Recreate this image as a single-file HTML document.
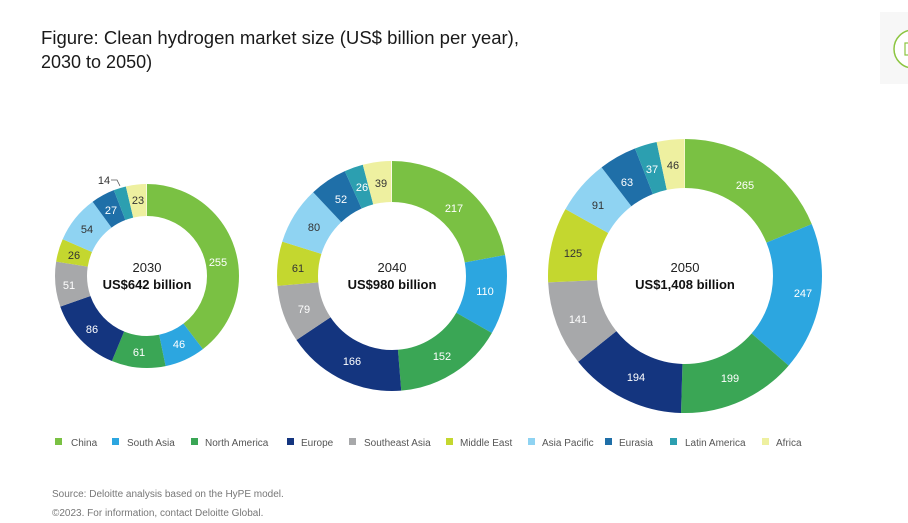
<!DOCTYPE html>
<html><head><meta charset="utf-8"><style>
html,body{margin:0;padding:0;background:#fff;}
svg{display:block;font-family:"Liberation Sans",sans-serif;}
</style></head><body>
<svg width="908" height="523" viewBox="0 0 908 523" xmlns="http://www.w3.org/2000/svg">
<rect x="880" y="12" width="28" height="72" fill="#f7f7f7"/>
<circle cx="913" cy="49" r="19" fill="#fff" stroke="#8cc540" stroke-width="1.5"/>
<rect x="905" y="43" width="6" height="12" fill="none" stroke="#8cc540" stroke-width="1.2"/>
<text x="41" y="44" font-size="18" fill="#1a1a1a" textLength="478" lengthAdjust="spacingAndGlyphs">Figure: Clean hydrogen market size (US$ billion per year),</text>
<text x="41" y="68" font-size="18" fill="#1a1a1a">2030 to 2050)</text>

<!-- 2030 -->
<g transform="rotate(-90 147 276)" fill="none" stroke-width="32">
<circle cx="147" cy="276" r="76" pathLength="643" stroke="#7ac143" stroke-dasharray="255 643" stroke-dashoffset="0"/>
<circle cx="147" cy="276" r="76" pathLength="643" stroke="#2ca6e0" stroke-dasharray="46 643" stroke-dashoffset="-255"/>
<circle cx="147" cy="276" r="76" pathLength="643" stroke="#3aa655" stroke-dasharray="61 643" stroke-dashoffset="-301"/>
<circle cx="147" cy="276" r="76" pathLength="643" stroke="#14357f" stroke-dasharray="86 643" stroke-dashoffset="-362"/>
<circle cx="147" cy="276" r="76" pathLength="643" stroke="#a7a8aa" stroke-dasharray="51 643" stroke-dashoffset="-448"/>
<circle cx="147" cy="276" r="76" pathLength="643" stroke="#c4d72f" stroke-dasharray="26 643" stroke-dashoffset="-499"/>
<circle cx="147" cy="276" r="76" pathLength="643" stroke="#8fd3f2" stroke-dasharray="54 643" stroke-dashoffset="-525"/>
<circle cx="147" cy="276" r="76" pathLength="643" stroke="#1f6fa8" stroke-dasharray="27 643" stroke-dashoffset="-579"/>
<circle cx="147" cy="276" r="76" pathLength="643" stroke="#2c9fb0" stroke-dasharray="14 643" stroke-dashoffset="-606"/>
<circle cx="147" cy="276" r="76" pathLength="643" stroke="#eef0a0" stroke-dasharray="23 643" stroke-dashoffset="-620"/>
</g>
<g font-size="11" text-anchor="middle">
<text x="218" y="266" fill="#fff">255</text><text x="179" y="348" fill="#fff">46</text>
<text x="139" y="356" fill="#fff">61</text><text x="92" y="333" fill="#fff">86</text>
<text x="69" y="289" fill="#fff">51</text><text x="74" y="259" fill="#333">26</text>
<text x="87" y="233" fill="#333">54</text><text x="111" y="214" fill="#fff">27</text>
<text x="104" y="184" fill="#333">14</text><text x="138" y="204" fill="#333">23</text>
</g>
<path d="M111 180 H117 L120 186" fill="none" stroke="#555" stroke-width="0.8"/>
<text x="147" y="272" font-size="13" text-anchor="middle" fill="#222">2030</text>
<text x="147" y="289" font-size="13" font-weight="bold" text-anchor="middle" fill="#111">US$642 billion</text>

<!-- 2040 -->
<g transform="rotate(-90 392 276)" fill="none" stroke-width="41">
<circle cx="392" cy="276" r="94.5" pathLength="982" stroke="#7ac143" stroke-dasharray="217 982" stroke-dashoffset="0"/>
<circle cx="392" cy="276" r="94.5" pathLength="982" stroke="#2ca6e0" stroke-dasharray="110 982" stroke-dashoffset="-217"/>
<circle cx="392" cy="276" r="94.5" pathLength="982" stroke="#3aa655" stroke-dasharray="152 982" stroke-dashoffset="-327"/>
<circle cx="392" cy="276" r="94.5" pathLength="982" stroke="#14357f" stroke-dasharray="166 982" stroke-dashoffset="-479"/>
<circle cx="392" cy="276" r="94.5" pathLength="982" stroke="#a7a8aa" stroke-dasharray="79 982" stroke-dashoffset="-645"/>
<circle cx="392" cy="276" r="94.5" pathLength="982" stroke="#c4d72f" stroke-dasharray="61 982" stroke-dashoffset="-724"/>
<circle cx="392" cy="276" r="94.5" pathLength="982" stroke="#8fd3f2" stroke-dasharray="80 982" stroke-dashoffset="-785"/>
<circle cx="392" cy="276" r="94.5" pathLength="982" stroke="#1f6fa8" stroke-dasharray="52 982" stroke-dashoffset="-865"/>
<circle cx="392" cy="276" r="94.5" pathLength="982" stroke="#2c9fb0" stroke-dasharray="26 982" stroke-dashoffset="-917"/>
<circle cx="392" cy="276" r="94.5" pathLength="982" stroke="#eef0a0" stroke-dasharray="39 982" stroke-dashoffset="-943"/>
</g>
<g font-size="11" text-anchor="middle">
<text x="454" y="212" fill="#fff">217</text><text x="485" y="295" fill="#fff">110</text>
<text x="442" y="360" fill="#fff">152</text><text x="352" y="365" fill="#fff">166</text>
<text x="304" y="313" fill="#fff">79</text><text x="298" y="272" fill="#333">61</text>
<text x="314" y="231" fill="#333">80</text><text x="341" y="203" fill="#fff">52</text>
<text x="362" y="191" fill="#fff">26</text><text x="381" y="187" fill="#333">39</text>
</g>
<text x="392" y="272" font-size="13" text-anchor="middle" fill="#222">2040</text>
<text x="392" y="289" font-size="13" font-weight="bold" text-anchor="middle" fill="#111">US$980 billion</text>

<!-- 2050 -->
<g transform="rotate(-90 685 276)" fill="none" stroke-width="49">
<circle cx="685" cy="276" r="112.5" pathLength="1408" stroke="#7ac143" stroke-dasharray="265 1408" stroke-dashoffset="0"/>
<circle cx="685" cy="276" r="112.5" pathLength="1408" stroke="#2ca6e0" stroke-dasharray="247 1408" stroke-dashoffset="-265"/>
<circle cx="685" cy="276" r="112.5" pathLength="1408" stroke="#3aa655" stroke-dasharray="199 1408" stroke-dashoffset="-512"/>
<circle cx="685" cy="276" r="112.5" pathLength="1408" stroke="#14357f" stroke-dasharray="194 1408" stroke-dashoffset="-711"/>
<circle cx="685" cy="276" r="112.5" pathLength="1408" stroke="#a7a8aa" stroke-dasharray="141 1408" stroke-dashoffset="-905"/>
<circle cx="685" cy="276" r="112.5" pathLength="1408" stroke="#c4d72f" stroke-dasharray="125 1408" stroke-dashoffset="-1046"/>
<circle cx="685" cy="276" r="112.5" pathLength="1408" stroke="#8fd3f2" stroke-dasharray="91 1408" stroke-dashoffset="-1171"/>
<circle cx="685" cy="276" r="112.5" pathLength="1408" stroke="#1f6fa8" stroke-dasharray="63 1408" stroke-dashoffset="-1262"/>
<circle cx="685" cy="276" r="112.5" pathLength="1408" stroke="#2c9fb0" stroke-dasharray="37 1408" stroke-dashoffset="-1325"/>
<circle cx="685" cy="276" r="112.5" pathLength="1408" stroke="#eef0a0" stroke-dasharray="46 1408" stroke-dashoffset="-1362"/>
</g>
<g font-size="11" text-anchor="middle">
<text x="745" y="189" fill="#fff">265</text><text x="803" y="297" fill="#fff">247</text>
<text x="730" y="382" fill="#fff">199</text><text x="636" y="381" fill="#fff">194</text>
<text x="578" y="323" fill="#fff">141</text><text x="573" y="257" fill="#333">125</text>
<text x="598" y="209" fill="#333">91</text><text x="627" y="186" fill="#fff">63</text>
<text x="652" y="173" fill="#fff">37</text><text x="673" y="169" fill="#333">46</text>
</g>
<text x="685" y="272" font-size="13" text-anchor="middle" fill="#222">2050</text>
<text x="685" y="289" font-size="13" font-weight="bold" text-anchor="middle" fill="#111">US$1,408 billion</text>

<!-- legend -->
<g font-size="10" fill="#555">
<rect x="55" y="438" width="7" height="7" fill="#7ac143"/><text x="71" y="446">China</text>
<rect x="112" y="438" width="7" height="7" fill="#2ca6e0"/><text x="127" y="446">South Asia</text>
<rect x="191" y="438" width="7" height="7" fill="#3aa655"/><text x="205" y="446">North America</text>
<rect x="287" y="438" width="7" height="7" fill="#14357f"/><text x="301" y="446">Europe</text>
<rect x="349" y="438" width="7" height="7" fill="#a7a8aa"/><text x="364" y="446">Southeast Asia</text>
<rect x="446" y="438" width="7" height="7" fill="#c4d72f"/><text x="460" y="446">Middle East</text>
<rect x="528" y="438" width="7" height="7" fill="#8fd3f2"/><text x="542" y="446">Asia Pacific</text>
<rect x="605" y="438" width="7" height="7" fill="#1f6fa8"/><text x="619" y="446">Eurasia</text>
<rect x="670" y="438" width="7" height="7" fill="#2c9fb0"/><text x="685" y="446">Latin America</text>
<rect x="762" y="438" width="7" height="7" fill="#eef0a0"/><text x="776" y="446">Africa</text>
</g>
<text x="52" y="497" font-size="10" fill="#777">Source: Deloitte analysis based on the HyPE model.</text>
<text x="52" y="516" font-size="10" fill="#777">©2023. For information, contact Deloitte Global.</text>
</svg>
</body></html>
